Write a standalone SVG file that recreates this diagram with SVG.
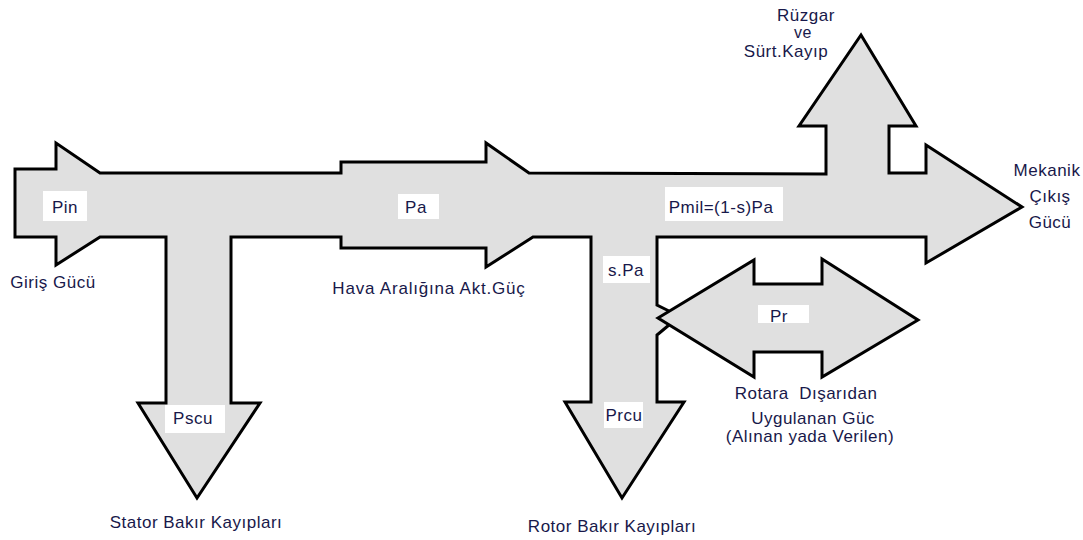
<svg xmlns="http://www.w3.org/2000/svg" width="1083" height="540" viewBox="0 0 1083 540">
  <style>
    .body { fill: #e0e0e0; stroke: none; }
    .edge { fill: none; stroke: #000; stroke-width: 3; stroke-linejoin: miter; }
    .tag { fill: #ffffff; }
    text { font-family: "Liberation Sans", Arial, sans-serif; font-size: 17px; fill: #18184a; letter-spacing: 0.5px; white-space: pre; }
    .mid { text-anchor: middle; }
  </style>

  <!-- Power flow body: input, air gap, mechanical output and loss branches -->
  <g id="flow">
    <path class="body" d="M15,169 L56,169 L56,143 L100,173 L341,173 L341,162 L486,162 L486,143 L529,173 L826,174 L826,126 L799,126 L861,35 L916,126 L889,126 L889,173 L926,173 L926,145 L1022,207 L926,263 L926,237 L657,237 L657,305 L669,311 L658,318 L669,325 L657,335 L657,402 L684,402 L622,498 L565,402 L591,402 L591,237 L533,237 L486,267 L486,248 L341,248 L341,237 L231,237 L231,403 L260,403 L197,498 L138,403 L166,403 L166,237 L100,237 L56,265 L56,237 L15,237 Z"/>
  </g>

  <!-- Rotor power exchanged with an external source (two-way arrow) -->
  <g id="rotor-exchange">
    <polygon class="body" points="658,318 754,260 754,284 822,284 822,259 918,320 822,377 822,352 754,352 754,377"/>
    <polygon class="edge" points="658,318 754,260 754,284 822,284 822,259 918,320 822,377 822,352 754,352 754,377"/>
  </g>

  <!-- Outline of the flow body, open where the two-way arrow joins the rotor branch -->
  <g id="flow-outline">
    <path class="edge" d="M669,325 L657,335 L657,402 L684,402 L622,498 L565,402 L591,402 L591,237 L533,237 L486,267 L486,248 L341,248 L341,237 L231,237 L231,403 L260,403 L197,498 L138,403 L166,403 L166,237 L100,237 L56,265 L56,237 L15,237 L15,169 L56,169 L56,143 L100,173 L341,173 L341,162 L486,162 L486,143 L529,173 L826,174 L826,126 L799,126 L861,35 L916,126 L889,126 L889,173 L926,173 L926,145 L1022,207 L926,263 L926,237 L657,237 L657,305 L669,311"/>
  </g>

  <g id="input">
    <rect class="tag" x="43" y="191" width="44" height="30"/>
    <text class="mid" x="65" y="213">Pin</text>
    <text class="mid" x="53" y="288">Giriş Gücü</text>
  </g>

  <g id="stator-loss">
    <rect class="tag" x="165" y="405" width="60" height="28"/>
    <text class="mid" x="193" y="424">Pscu</text>
    <text class="mid" x="196" y="528">Stator Bakır Kayıpları</text>
  </g>

  <g id="air-gap">
    <rect class="tag" x="398" y="194" width="41" height="25"/>
    <text class="mid" x="416" y="213">Pa</text>
    <text class="mid" x="429" y="294" style="letter-spacing:0.8px">Hava Aralığına Akt.Güç</text>
  </g>

  <g id="slip-power">
    <rect class="tag" x="603" y="256" width="47" height="27"/>
    <text class="mid" x="626" y="276">s.Pa</text>
  </g>

  <g id="rotor-loss">
    <rect class="tag" x="604" y="402" width="39" height="26"/>
    <text class="mid" x="624" y="421">Prcu</text>
    <text class="mid" x="612" y="532">Rotor Bakır Kayıpları</text>
  </g>

  <g id="exchange-label">
    <rect class="tag" x="758" y="305" width="51" height="18"/>
    <text class="mid" x="779" y="322">Pr</text>
    <text class="mid" x="806" y="399">Rotara  Dışarıdan</text>
    <text class="mid" x="813" y="424">Uygulanan Güc</text>
    <text class="mid" x="810" y="442">(Alınan yada Verilen)</text>
  </g>

  <g id="mechanical">
    <rect class="tag" x="665" y="187" width="118" height="34"/>
    <text class="mid" x="721" y="213">Pmil=(1-s)Pa</text>
  </g>

  <g id="friction-loss">
    <text class="mid" x="806" y="21">Rüzgar</text>
    <text class="mid" x="803" y="38" style="font-size:16px">ve</text>
    <text class="mid" x="786" y="57">Sürt.Kayıp</text>
  </g>

  <g id="output">
    <text class="mid" x="1047" y="176">Mekanik</text>
    <text class="mid" x="1050" y="202">Çıkış</text>
    <text class="mid" x="1050" y="228">Gücü</text>
  </g>
</svg>
